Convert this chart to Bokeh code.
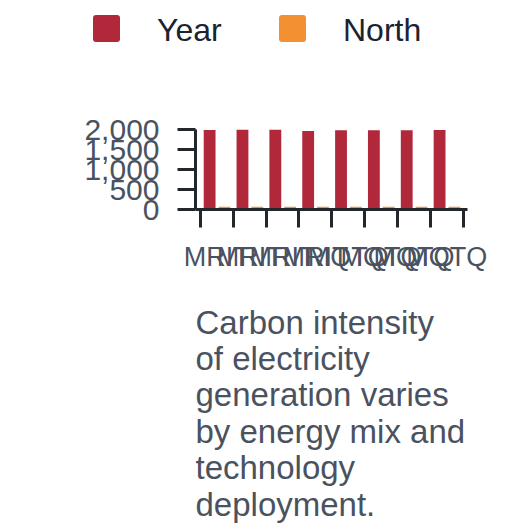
from bokeh.plotting import figure
from bokeh.layouts import column
from bokeh.models import (ColumnDataSource, FixedTicker, NumeralTickFormatter,
                          Label, Range1d, Div)
from bokeh.embed import file_html
from bokeh.resources import INLINE

# ---- data ----
categories = ["MRIT", "MRIT", "MRIT", "MRIT", "MQTQ", "MQTQ", "MQTQ", "MQTQ"]
year_values = [1990, 2000, 2000, 1965, 1980, 1980, 1980, 1990]
north_values = [70, 70, 70, 70, 70, 70, 70, 70]
y_ticks = [0, 500, 1000, 1500, 2000]
series_names = ["Year", "North"]
caption_text = ("Carbon intensity\nof electricity\ngeneration varies\n"
                "by energy mix and\ntechnology\ndeployment.")

RED = "#b0283a"
ORANGE = "#f39031"
AXIS = "#23272b"
TEXT = "#4a5260"
LEGEND_TEXT = "#1d2230"
FONT = "Liberation Sans"
W = 520

# ---- legend (HTML strip above the chart) ----
def legend_entry(left, color, label):
    return (
        f'<span style="position:absolute;left:{left}px;top:15px;width:27px;'
        f'height:27px;border-radius:3px;background:{color};"></span>'
        f'<span style="position:absolute;left:{left + 64}px;top:14px;'
        f'font-family:\'{FONT}\';font-size:32px;line-height:32px;'
        f'color:{LEGEND_TEXT};white-space:nowrap;">{label}</span>'
    )

legend_html = (
    f'<div style="position:relative;width:{W}px;height:60px;margin:0;padding:0;">'
    + legend_entry(93, RED, series_names[0])
    + legend_entry(279, ORANGE, series_names[1])
    + "</div>"
)
legend_div = Div(text=legend_html, width=W, height=60, margin=0)

# ---- main chart ----
n = len(categories)
idx = list(range(n))
src = ColumnDataSource(dict(
    x_year=[i + 0.28 for i in idx],
    x_north=[i + 0.73 for i in idx],
    year=year_values,
    north=north_values,
))

p = figure(width=W, height=230, output_backend="svg", toolbar_location=None,
           x_range=Range1d(-0.15, n + 0.13), y_range=Range1d(0, 2000),
           min_border_left=195, min_border_right=53, min_border_top=69,
           min_border_bottom=81)
p.outline_line_color = None
p.xgrid.visible = False
p.ygrid.visible = False

p.vbar(x="x_year", top="year", bottom=0, width=0.36, source=src,
       fill_color=RED, line_color=None)
p.vbar(x="x_north", top="north", bottom=0, width=0.36, source=src,
       fill_color=ORANGE, line_color=None)

centers = [i + 0.5 for i in idx]
bounds = list(range(n + 1))
p.xaxis.ticker = FixedTicker(ticks=centers, minor_ticks=bounds)
p.xaxis.major_label_overrides = {c: lab for c, lab in zip(centers, categories)}
p.xaxis.major_tick_line_alpha = 0
p.xaxis.major_tick_out = 18
p.xaxis.major_tick_in = 0
p.xaxis.minor_tick_out = 18
p.xaxis.minor_tick_in = 0
p.xaxis.minor_tick_line_color = AXIS
p.xaxis.minor_tick_line_width = 3
p.xaxis.axis_line_color = AXIS
p.xaxis.axis_line_width = 3
p.xaxis.major_label_text_font = FONT
p.xaxis.major_label_text_font_size = "27px"
p.xaxis.major_label_text_color = TEXT
p.xaxis.major_label_standoff = 14

p.yaxis.ticker = FixedTicker(ticks=y_ticks)
p.yaxis.formatter = NumeralTickFormatter(format="0,0")
p.yaxis.minor_tick_line_color = None
p.yaxis.major_tick_out = 18
p.yaxis.major_tick_in = 0
p.yaxis.major_tick_line_color = AXIS
p.yaxis.major_tick_line_width = 3
p.yaxis.axis_line_color = AXIS
p.yaxis.axis_line_width = 3
p.yaxis.major_label_text_font = FONT
p.yaxis.major_label_text_font_size = "30px"
p.yaxis.major_label_text_color = TEXT
p.yaxis.major_label_standoff = 18

# ---- caption ----
bot = figure(width=W, height=236, output_backend="svg", toolbar_location=None,
             x_range=Range1d(0, 1), y_range=Range1d(0, 1), min_border=0)
bot.axis.visible = False
bot.grid.visible = False
bot.outline_line_color = None
caption = Label(x=0, y=223, x_units="screen", y_units="screen",
                text=caption_text, text_font=FONT, text_font_size="33px",
                text_color=TEXT, text_baseline="top", text_align="left",
                text_line_height=0.985)
bot.add_layout(caption)

layout = column(legend_div, p, bot, spacing=0)
open("out.html", "w").write(file_html(layout, INLINE))
